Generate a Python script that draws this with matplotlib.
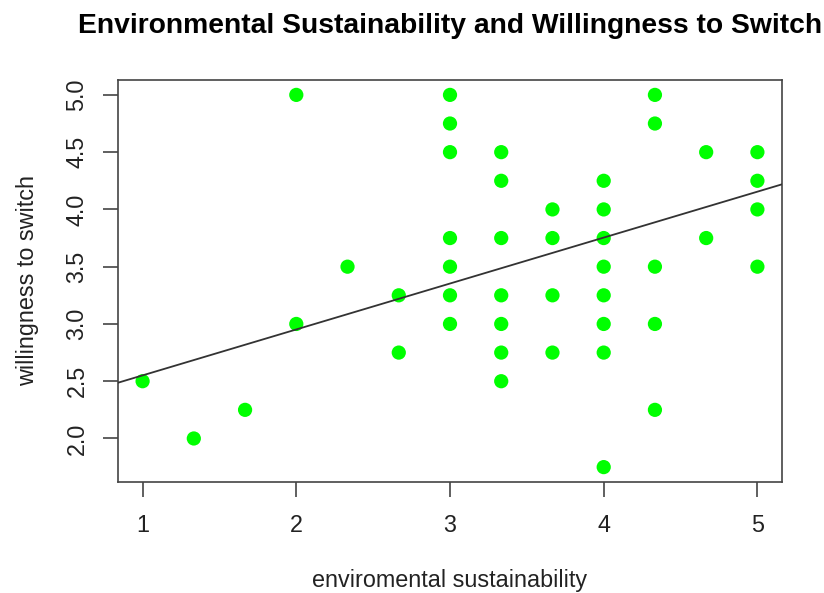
import matplotlib
matplotlib.use("Agg")
import matplotlib.pyplot as plt
import numpy as np

plt.rcParams['font.family'] = ['Liberation Sans', 'DejaVu Sans']

# environmental sustainability score and willingness to switch per respondent
env_sustain = [1.0, 1.3333, 1.6667,
               2.0, 2.0,
               2.3333,
               2.6667, 2.6667,
               3.0, 3.0, 3.0, 3.0, 3.0, 3.0, 3.0,
               3.3333, 3.3333, 3.3333, 3.3333, 3.3333, 3.3333, 3.3333,
               3.6667, 3.6667, 3.6667, 3.6667,
               4.0, 4.0, 4.0, 4.0, 4.0, 4.0, 4.0, 4.0,
               4.3333, 4.3333, 4.3333, 4.3333, 4.3333,
               4.6667, 4.6667,
               5.0, 5.0, 5.0, 5.0]
willing = [2.5, 2.0, 2.25,
           5.0, 3.0,
           3.5,
           3.25, 2.75,
           5.0, 4.75, 4.5, 3.75, 3.5, 3.25, 3.0,
           4.5, 4.25, 3.75, 3.25, 3.0, 2.75, 2.5,
           4.0, 3.75, 3.25, 2.75,
           4.25, 4.0, 3.75, 3.5, 3.25, 3.0, 2.75, 1.75,
           5.0, 4.75, 3.5, 3.0, 2.25,
           4.5, 3.75,
           4.5, 4.25, 4.0, 3.5]

# fitted regression line
fit_intercept = 2.15
fit_slope = 0.401

x_ticks = [1, 2, 3, 4, 5]
y_ticks = [2.0, 2.5, 3.0, 3.5, 4.0, 4.5, 5.0]

fig = plt.figure(figsize=(8.24, 5.93), dpi=100)
W, H = 824, 593
ax = fig.add_axes([118 / W, 1 - 482 / H, (782 - 118) / W, (482 - 80) / H])

ax.scatter(env_sustain, willing, s=105, color='#00ff00', edgecolors='none', zorder=3)

xmin, xmax = 0.84, 5.16
ymin, ymax = 1.62, 5.13
ax.set_xlim(xmin, xmax)
ax.set_ylim(ymin, ymax)

xl = np.array([xmin, xmax])
ax.plot(xl, fit_intercept + fit_slope * xl, color='#333333', lw=1.3, zorder=4)

for s in ax.spines.values():
    s.set_color('#444444')
    s.set_linewidth(1.2)

ax.set_xticks(x_ticks)
ax.set_xticklabels([str(v) for v in x_ticks])
ax.set_yticks(y_ticks)
ax.set_yticklabels([f"{v:.1f}" for v in y_ticks], rotation=90, va='center')
ax.tick_params(direction='out', length=10.8, width=1.2, color='#444444',
               labelsize=16.8, labelcolor='#222222')
ax.tick_params(axis='x', pad=12)
ax.tick_params(axis='y', pad=10.5)

ax.set_xlabel('enviromental sustainability', fontsize=16.8, color='#222222', labelpad=23)
ax.set_ylabel('willingness to switch', fontsize=16.8, color='#222222', labelpad=19)
ax.set_title('Environmental Sustainability and Willingness to Switch',
             fontsize=20.3, fontweight='bold', pad=34)

fig.savefig('out.png', dpi=100)
